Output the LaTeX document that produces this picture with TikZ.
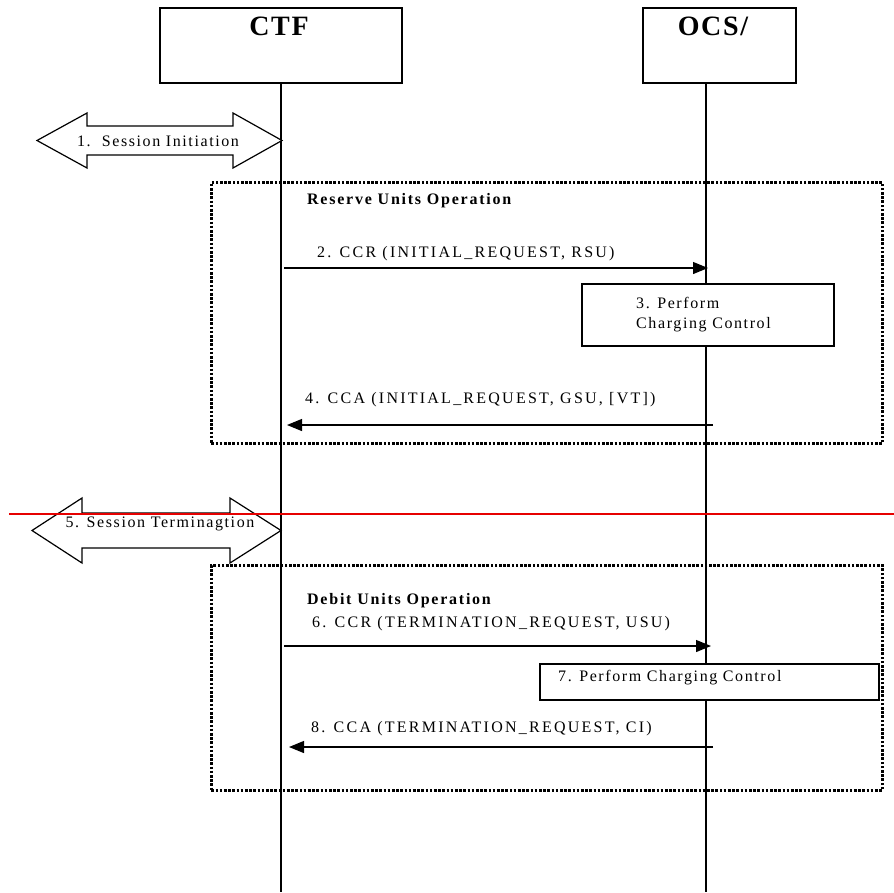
\documentclass[tikz,border=0pt]{standalone}
\usepackage{fontspec}
\setmainfont{Liberation Serif}
\newfontfamily\msgfont{Liberation Serif}[LetterSpace=14]
\newfontfamily\boxfont{Liberation Serif}[LetterSpace=10]
\newfontfamily\grpfont{Liberation Serif}[LetterSpace=11]
\newfontfamily\titlefont{Liberation Serif}[LetterSpace=6]
\newfontfamily\arrfont{Liberation Serif}[LetterSpace=10]
\usetikzlibrary{arrows.meta}
\definecolor{sepred}{RGB}{230,0,0}
\begin{document}
\begin{tikzpicture}[x=1pt,y=-1pt,
  lifeline/.style={line width=1.8pt},
  entity/.style={draw,line width=1.3pt,fill=white,inner sep=0pt},
  title/.style={font=\titlefont\fontsize{28}{30}\selectfont\bfseries,inner sep=0pt,anchor=base},
  grp/.style={draw,line width=2.6pt,dash pattern=on 2.6pt off 1.6pt,inner sep=0pt,anchor=north west},
  proc/.style={draw,line width=1.2pt,fill=white,inner sep=0pt},
  msg/.style={line width=1.2pt,-{Triangle[length=15pt,width=12pt]}},
  lbl/.style={font=\msgfont\fontsize{16}{20}\selectfont,inner sep=0pt,anchor=base west},
  boxlbl/.style={font=\boxfont\fontsize{16}{20}\selectfont,inner sep=0pt,anchor=base west,align=left},
  grplbl/.style={font=\grpfont\fontsize{16}{20}\selectfont\bfseries,inner sep=0pt,anchor=base west},
  arrlbl/.style={font=\arrfont\fontsize{16}{18}\selectfont,inner sep=0pt},
  fatarrow/.style={draw,line width=1.2pt,fill=white,line join=miter}
]
\useasboundingbox[fill=white] (0,0) rectangle (894,892);

% entities
\node[entity,minimum width=242pt,minimum height=75pt] (ctf) at (281,45.5) {};
\node[entity,minimum width=153pt,minimum height=75pt] (ocs) at (719.5,45.5) {};
\node[title] (ctft) at (279,35) {CTF};
\node[title] (ocst) at (713,35) {OCS/};

% lifelines
\coordinate (ctftop) at (281,83);
\coordinate (ctfend) at (281,892);
\coordinate (ocstop) at (706,83);
\coordinate (ocsend) at (706,892);
\draw[lifeline] (ctftop) -- (ctfend);
\draw[lifeline] (ocstop) -- (ocsend);

% 1. Session Initiation
\draw[fatarrow] (37,140.5) -- (87,113) -- (87,126) -- (233,126) -- (233,113)
  -- (282,140.5) -- (233,168) -- (233,155) -- (87,155) -- (87,168) -- cycle;
\node[arrlbl] (si) at (158,141) {1.\ \ Session Initiation};

% group 1
\node[grp,minimum width=671pt,minimum height=261pt] (g1) at (210,181) {};
\node[grplbl] (g1l) at (307,204) {Reserve Units Operation};

% message 2
\coordinate (m2a) at (284,268);
\coordinate (m2b) at (708,268);
\node[lbl] (m2l) at (317,257) {2. CCR (INITIAL\_REQUEST, RSU)};
\draw[msg] (m2a) -- (m2b);

% box 3
\node[proc,minimum width=252pt,minimum height=62pt] (p3) at (708,315) {};
\node[boxlbl] (p3l) at (636,328) {3. Perform\\Charging Control};

% message 4
\coordinate (m4a) at (713,425);
\coordinate (m4b) at (287,425);
\node[lbl] (m4l) at (305,403) {4. CCA (INITIAL\_REQUEST, GSU, [VT])};
\draw[msg] (m4a) -- (m4b);

% 5. Session Termination
\draw[fatarrow] (32,530.5) -- (82,498) -- (82,513) -- (230,513) -- (230,498)
  -- (281,530.5) -- (230,563) -- (230,548) -- (82,548) -- (82,563) -- cycle;
\coordinate (redl) at (9,514);
\coordinate (redr) at (894,514);
\draw[sepred,line width=1.5pt] (redl) -- (redr);
\node[arrlbl] (st) at (160,524) {5. Session Terminagtion};

% group 2
\node[grp,minimum width=671pt,minimum height=225pt] (g2) at (210,564) {};
\node[grplbl] (g2l) at (307,604) {Debit Units Operation};

% message 6
\coordinate (m6a) at (284,646);
\coordinate (m6b) at (711,646);
\node[lbl] (m6l) at (312,627) {6. CCR (TERMINATION\_REQUEST, USU)};
\draw[msg] (m6a) -- (m6b);

% box 7
\node[proc,minimum width=339pt,minimum height=36pt] (p7) at (709.5,682) {};
\node[boxlbl] (p7l) at (558,681) {7. Perform Charging Control};

% message 8
\coordinate (m8a) at (713,747);
\coordinate (m8b) at (289,747);
\node[lbl] (m8l) at (311,732) {8. CCA (TERMINATION\_REQUEST, CI)};
\draw[msg] (m8a) -- (m8b);
\end{tikzpicture}
\end{document}
